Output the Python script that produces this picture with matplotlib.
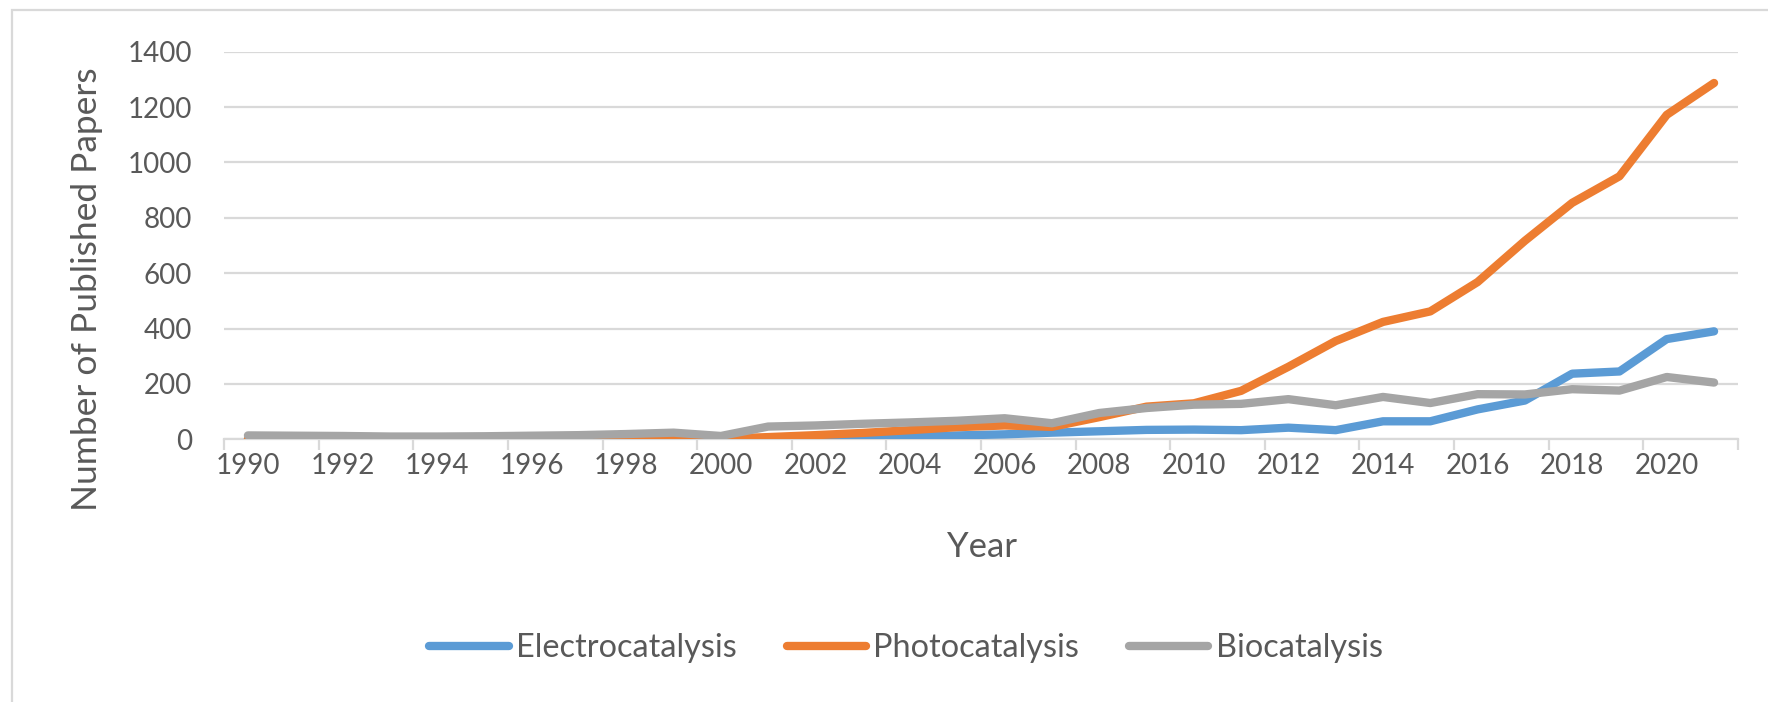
import matplotlib
matplotlib.use("Agg")
import matplotlib.pyplot as plt
from matplotlib.patches import Rectangle
from matplotlib.ticker import FixedLocator, NullFormatter

plt.rcParams['font.family'] = ['Lato', 'DejaVu Sans']

years = list(range(1990, 2022))

electrocatalysis = [0, 0, 0, 0, 0, 0, 0, 0, 0, 0, 0,
                    1, 2, 5, 10, 14, 18, 24, 29, 34, 35,
                    33, 42, 33, 65, 65, 108, 140, 237, 245, 362, 390]
photocatalysis = [0, 0, 0, 0, 0, 0, 0, 0, 1, 1, 2,
                  8, 15, 23, 33, 44, 50, 45, 80, 118, 130,
                  175, 262, 355, 424, 462, 568, 717, 854, 950, 1172, 1287]
biocatalysis = [14, 13, 12, 10, 10, 11, 13, 15, 19, 24, 12,
                46, 50, 56, 61, 67, 76, 58, 95, 113, 125,
                128, 145, 123, 153, 131, 163, 162, 181, 176, 225, 205]

series_names = ['Electrocatalysis', 'Photocatalysis', 'Biocatalysis']
series_colors = ['#5B9BD5', '#ED7D31', '#A5A5A5']
y_ticks = [0, 200, 400, 600, 800, 1000, 1200, 1400]

TEXT = '#595959'
GRID = '#D9D9D9'

W, H = 1768, 702
fig = plt.figure(figsize=(W / 100, H / 100), dpi=100)

# chart border (light grey frame)
fig.patches.append(Rectangle((12 / W, -0.2), 1.5, 1 - 10 / H + 0.2,
                             transform=fig.transFigure, fill=False,
                             edgecolor=GRID, linewidth=1.6))

left, right, top, bottom = 224.3, 1737.7, 51.7, 439.3
ax = fig.add_axes([left / W, 1 - bottom / H, (right - left) / W, (bottom - top) / H])

x = list(range(len(years)))
for vals, name, col, z in zip([electrocatalysis, photocatalysis, biocatalysis],
                              series_names, series_colors, [3, 4, 5]):
    ax.plot(x, vals, color=col, lw=6, label=name, zorder=z,
            solid_capstyle='round', solid_joinstyle='round')

ax.set_xlim(-0.5, len(years) - 0.5)
ax.set_ylim(0, 1400)

for s in ['top', 'right', 'left']:
    ax.spines[s].set_visible(False)
ax.spines['bottom'].set_color(GRID)
ax.spines['bottom'].set_linewidth(1.6)
ax.spines['bottom'].set_zorder(2)

ax.set_yticks(y_ticks)
ax.set_yticklabels([str(v) for v in y_ticks])
ax.yaxis.grid(True, color=GRID, linewidth=1.6)
ax.set_axisbelow(True)
ax.tick_params(axis='y', length=0, pad=23, labelsize=20, labelcolor=TEXT)

label_pos = x[::2]
ax.set_xticks(label_pos)
ax.set_xticklabels([str(years[i]) for i in label_pos])
ax.tick_params(axis='x', which='major', length=0, pad=10, labelsize=20, labelcolor=TEXT)
ax.xaxis.set_minor_locator(FixedLocator([i - 0.5 for i in range(0, len(years) + 1, 2)]))
ax.xaxis.set_minor_formatter(NullFormatter())
ax.tick_params(axis='x', which='minor', length=8, width=1.6, color=GRID)

ax.set_xlabel('Year', fontsize=25, color=TEXT)
ax.xaxis.set_label_coords((982 - left) / (right - left), (bottom - 547) / (bottom - top))
ax.xaxis.label.set_va('center')

ax.set_ylabel('Number of Published Papers', fontsize=25.5, color=TEXT)
ax.yaxis.set_label_coords((87 - left) / (right - left), (bottom - 289) / (bottom - top))
ax.yaxis.label.set_va('center')

fig.legend(loc='center', bbox_to_anchor=(906 / W, 1 - 648 / H), ncol=3, frameon=False,
           fontsize=23.3, labelcolor=TEXT, handlelength=2.45, handletextpad=0.22,
           columnspacing=1.55)

fig.savefig('out.png', dpi=100, facecolor='white')
